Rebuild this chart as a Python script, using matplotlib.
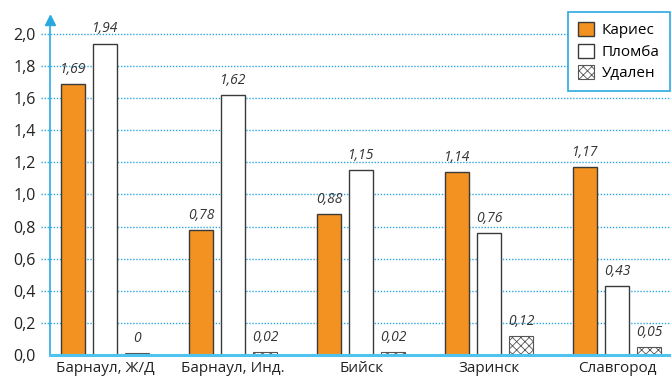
import matplotlib
matplotlib.use("Agg")
import matplotlib.pyplot as plt
import numpy as np

plt.rcParams['font.family'] = ['Open Sans', 'DejaVu Sans']
plt.rcParams['hatch.color'] = '#555555'
plt.rcParams['hatch.linewidth'] = 0.6

cities = ["Барнаул, Ж/Д", "Барнаул, Инд.", "Бийск", "Заринск", "Славгород"]
caries = [1.69, 0.78, 0.88, 1.14, 1.17]
filling = [1.94, 1.62, 1.15, 0.76, 0.43]
removed = [0.0, 0.02, 0.02, 0.12, 0.05]
yticks = [0.0, 0.2, 0.4, 0.6, 0.8, 1.0, 1.2, 1.4, 1.6, 1.8, 2.0]

def fmt(v):
    s = f"{v:.2f}".replace(".", ",")
    return "0" if v == 0 else s

cyan = '#2aa9e0'
fig = plt.figure(figsize=(6.71, 3.81), dpi=100)
ax = fig.add_axes([50/671, 26/381, 1 - 50/671, 1 - 46/381])

x = np.arange(len(cities))
w = 0.1875
off = 0.25
edge = '#3a3a3a'
ax.bar(x - off, caries, w, color='#f39220', edgecolor=edge, linewidth=1.0, label='Кариес', zorder=3)
ax.bar(x, filling, w, color='white', edgecolor=edge, linewidth=1.0, label='Пломба', zorder=3)
ax.bar(x + off, [max(v, 0.012) for v in removed], w, color='white', edgecolor='#555555',
       linewidth=0.8, hatch='xxxx', label='Удален', zorder=3)

for xs, vals in ((x - off, caries), (x, filling), (x + off, removed)):
    for xi, v in zip(xs, vals):
        ax.text(xi, max(v, 0.012) + 0.045, fmt(v), ha='center', va='bottom',
                fontsize=10, style='italic', color='#333333', zorder=4)

ax.set_xlim(-0.43, 4.42)
ax.set_ylim(0, 2.087)
ax.set_yticks(yticks)
ax.set_yticklabels([f"{t:.1f}".replace(".", ",") for t in yticks], fontsize=11.5, color='#222222')
ax.set_xticks(x)
ax.set_xticklabels(cities, fontsize=11, color='#222222')
ax.tick_params(axis='x', length=0, pad=4)
ax.tick_params(axis='y', length=7, color=(0, 0, 0, 0), width=1, pad=3)

for t in yticks[1:]:
    ax.axhline(t, xmin=-0.014, xmax=1.0, color=cyan, linestyle=(0, (1, 1.2)),
               linewidth=1.0, zorder=1, clip_on=False)

for s in ('top', 'right'):
    ax.spines[s].set_visible(False)
ax.spines['left'].set_color(cyan)
ax.spines['left'].set_linewidth(1.2)
ax.spines['bottom'].set_color('#4fc3f0')
ax.spines['bottom'].set_linewidth(2.2)
ax.spines['bottom'].set_zorder(5)
ax.plot([0], [1.0], marker='^', markersize=7, color=cyan, transform=ax.transAxes,
        clip_on=False, zorder=6)

leg = ax.legend(loc='upper right', bbox_to_anchor=(0.998, 1.024), borderaxespad=0,
                fontsize=11, frameon=True, fancybox=False, edgecolor=cyan, framealpha=1,
                handlelength=1.05, handleheight=1.05, handletextpad=0.5, borderpad=0.65,
                labelspacing=0.35)
leg.get_frame().set_linewidth(1.2)
leg.set_zorder(10)

fig.savefig('out.png', dpi=100)
